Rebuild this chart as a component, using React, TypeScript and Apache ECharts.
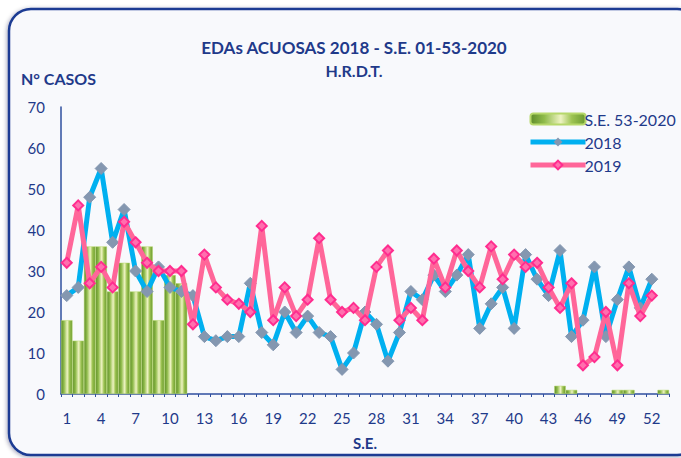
import React, { useEffect, useRef } from "react";
import * as echarts from "echarts";

const weeks: string[] = Array.from({ length: 53 }, (_, i) => String(i + 1));
const yTicks = [0, 10, 20, 30, 40, 50, 60, 70];

const se2020: (number | null)[] = [
  18, 13, 36, 36, 25, 32, 25, 36, 18, 29, 27,
  null, null, null, null, null, null, null, null, null, null, null, null, null, null, null, null, null, null, null, null, null,
  null, null, null, null, null, null, null, null, null, null, null,
  2, 1, null, null, null, 1, 1, null, null, 1,
];

const y2018: (number | null)[] = [
  24, 26, 48, 55, 37, 45, 30, 25, 31, 26,
  25, 24, 14, 13, 14, 14, 27, 15, 12, 20,
  15, 19, 15, 14, 6, 10, 20, 17, 8, 15,
  25, 23, 29, 25, 29, 34, 16, 22, 26, 16,
  34, 28, 24, 35, 14, 18, 31, 14, 23, 31,
  21, 28, null,
];

const y2019: (number | null)[] = [
  32, 46, 27, 31, 26, 42, 37, 32, 30, 30,
  30, 17, 34, 26, 23, 22, 20, 41, 18, 26,
  19, 23, 38, 23, 20, 21, 18, 31, 35, 18,
  21, 18, 33, 26, 35, 30, 26, 36, 28, 34,
  31, 32, 26, 21, 27, 7, 9, 20, 7, 27,
  19, 24, null,
];

const NAVY = "#1f3a8a";
const FONT = "Lato, 'Open Sans', sans-serif";

export default function App() {
  const ref = useRef<HTMLDivElement>(null);
  useEffect(() => {
    if (!ref.current) return;
    const chart = echarts.init(ref.current, null, { renderer: "svg" });
    const barGrad = new echarts.graphic.LinearGradient(0, 0, 1, 0, [
      { offset: 0, color: "#5f8d2b" },
      { offset: 0.25, color: "#8fbb4a" },
      { offset: 0.55, color: "#eef3c2" },
      { offset: 0.75, color: "#9dc352" },
      { offset: 1, color: "#6a9a30" },
    ]);
    chart.setOption({
      animation: false,
      backgroundColor: "#ffffff",
      textStyle: { fontFamily: FONT },
      graphic: [
        {
          type: "rect",
          z: -10,
          shape: { x: 9, y: 9, width: 690, height: 446, r: 22 },
          style: {
            fill: "#f8f9fc",
            stroke: "#1a3a93",
            lineWidth: 2.5,
            shadowBlur: 4,
            shadowColor: "rgba(0,0,60,0.35)",
            shadowOffsetX: -1,
            shadowOffsetY: 1,
          },
        },
        {
          type: "text",
          left: 21,
          top: 70,
          style: { text: "N° CASOS", fill: NAVY, font: `bold 16px ${FONT}` },
        },
      ],
      title: {
        text: "EDAs ACUOSAS 2018 - S.E. 01-53-2020",
        subtext: "H.R.D.T.",
        left: 349,
        textAlign: "center",
        top: 34,
        itemGap: 6,
        textStyle: { color: NAVY, fontSize: 17, fontWeight: "bold", fontFamily: FONT },
        subtextStyle: { color: NAVY, fontSize: 16, fontWeight: "bold", fontFamily: FONT },
      },
      legend: {
        orient: "vertical",
        left: 523,
        top: 106,
        itemWidth: 55,
        itemHeight: 11,
        itemGap: 7,
        lineStyle: { width: 5 },
        textStyle: { color: NAVY, fontSize: 16, fontFamily: FONT, padding: [0, 0, 0, -6] },
        data: ["S.E. 53-2020", "2018", "2019"],
      },
      grid: { left: 61, right: 12, top: 107, bottom: 64, containLabel: false },
      xAxis: {
        type: "category",
        data: weeks,
        name: "S.E.",
        nameLocation: "middle",
        nameGap: 41,
        nameTextStyle: { color: NAVY, fontSize: 15, fontWeight: "bold", fontFamily: FONT },
        axisLine: { lineStyle: { color: "#2f4f9f", width: 1.5 } },
        axisTick: { show: true, interval: 0, length: 3, lineStyle: { color: "#2f4f9f" } },
        axisLabel: { interval: 2, color: NAVY, fontSize: 15, fontFamily: FONT, margin: 16 },
      },
      yAxis: {
        type: "value",
        min: 0,
        max: 70,
        interval: 10,
        splitLine: { show: false },
        axisLine: { show: true, lineStyle: { color: "#2f4f9f", width: 1.5 } },
        axisTick: { show: false },
        axisLabel: {
          color: NAVY,
          fontSize: 15,
          fontFamily: FONT,
          margin: 16,
          formatter: (v: number) => (yTicks.includes(v) ? String(v) : ""),
        },
      },
      series: [
        {
          name: "S.E. 53-2020",
          type: "bar",
          data: se2020,
          barCategoryGap: "0%",
          itemStyle: { color: barGrad, borderColor: "#b6d86a", borderWidth: 0.5 },
          z: 1,
        },
        {
          name: "2018",
          type: "line",
          data: y2018,
          symbol: "diamond",
          symbolSize: 12,
          showAllSymbol: true,
          lineStyle: { color: "#00b0f0", width: 5 },
          itemStyle: { color: "#8497b0", borderColor: "#8497b0" },
          z: 3,
        },
        {
          name: "2019",
          type: "line",
          data: y2019,
          symbol: "diamond",
          symbolSize: 10,
          showAllSymbol: true,
          lineStyle: { color: "#ff6699", width: 5 },
          itemStyle: { color: "#ff6fae", borderColor: "#ff2d8f", borderWidth: 2 },
          z: 4,
        },
      ],
    });
    return () => chart.dispose();
  }, []);
  return (
    <div
      ref={ref}
      style={{ position: "absolute", left: 0, top: 0, width: 681, height: 458 }}
    />
  );
}
